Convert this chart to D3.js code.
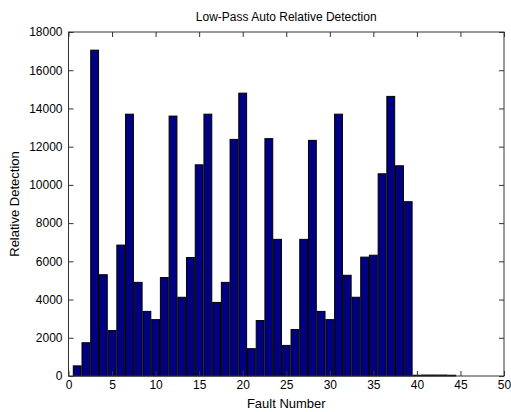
<!DOCTYPE html>
<html>
<head>
<meta charset="utf-8">
<script src="https://cdn.jsdelivr.net/npm/d3@7"></script>
<style>
body{margin:0;background:#fff;}
text{font-family:"Liberation Sans",Arial,sans-serif;}
</style>
</head>
<body>
<svg id="chart" width="511" height="412"></svg>
<script>
const faults = d3.range(1, 45);
const detection = [530,1740,17050,5300,2380,6850,13700,4900,3380,2950,
  5150,13600,4120,6200,11050,13700,3850,4900,12380,14800,
  1430,2900,12420,7150,1600,2430,7150,12330,3380,2950,
  13700,5270,4120,6220,6320,10580,14630,11000,9120,40,
  50,50,50,40];
const xTicks = [0,5,10,15,20,25,30,35,40,45,50];
const yTicks = [0,2000,4000,6000,8000,10000,12000,14000,16000,18000];
const title = "Low-Pass Auto Relative Detection";
const xLabel = "Fault Number";
const yLabel = "Relative Detection";

const svg = d3.select("#chart");
const L = 68.5, R = 504, T = 32, B = 376;
const x = d3.scaleLinear().domain([0,50]).range([L,R]);
const y = d3.scaleLinear().domain([0,18000]).range([B,T]);
const bw = 0.9;

svg.append("g").selectAll("rect").data(faults).join("rect")
  .attr("x", d => x(d - bw/2))
  .attr("width", x(bw) - x(0))
  .attr("y", (d,i) => y(detection[i]))
  .attr("height", (d,i) => y(0) - y(detection[i]))
  .attr("fill", "#000080")
  .attr("stroke", "#000")
  .attr("stroke-width", 1);

const tickSize = -5;
const fmt = d3.format("d");
svg.append("g").attr("transform",`translate(0,${B})`)
  .call(d3.axisBottom(x).tickValues(xTicks).tickSizeInner(tickSize).tickSizeOuter(0).tickPadding(4).tickFormat(fmt))
  .call(g=>g.select(".domain").remove());
svg.append("g").attr("transform",`translate(0,${T})`)
  .call(d3.axisTop(x).tickValues(xTicks).tickSizeInner(tickSize).tickSizeOuter(0).tickFormat(""))
  .call(g=>g.select(".domain").remove());
svg.append("g").attr("transform",`translate(${L},0)`)
  .call(d3.axisLeft(y).tickValues(yTicks).tickSizeInner(tickSize).tickSizeOuter(0).tickPadding(6).tickFormat(fmt))
  .call(g=>g.select(".domain").remove());
svg.append("g").attr("transform",`translate(${R},0)`)
  .call(d3.axisRight(y).tickValues(yTicks).tickSizeInner(tickSize).tickSizeOuter(0).tickFormat(""))
  .call(g=>g.select(".domain").remove());

svg.selectAll(".tick line").attr("stroke","#333");
svg.selectAll(".tick text").attr("font-size","12px").attr("fill","#000")
  .attr("font-family","Liberation Sans, Arial, sans-serif");

svg.append("rect").attr("x",L).attr("y",T).attr("width",R-L).attr("height",B-T)
  .attr("fill","none").attr("stroke","#333").attr("stroke-width",1);

svg.append("text").attr("x",(L+R)/2).attr("y",21).attr("text-anchor","middle")
  .attr("font-size","12px").text(title);
svg.append("text").attr("x",(L+R)/2).attr("y",408).attr("text-anchor","middle")
  .attr("font-size","13px").text(xLabel);
svg.append("text").attr("transform",`translate(19,${(T+B)/2}) rotate(-90)`)
  .attr("text-anchor","middle").attr("font-size","13px").text(yLabel);
</script>
</body>
</html>
